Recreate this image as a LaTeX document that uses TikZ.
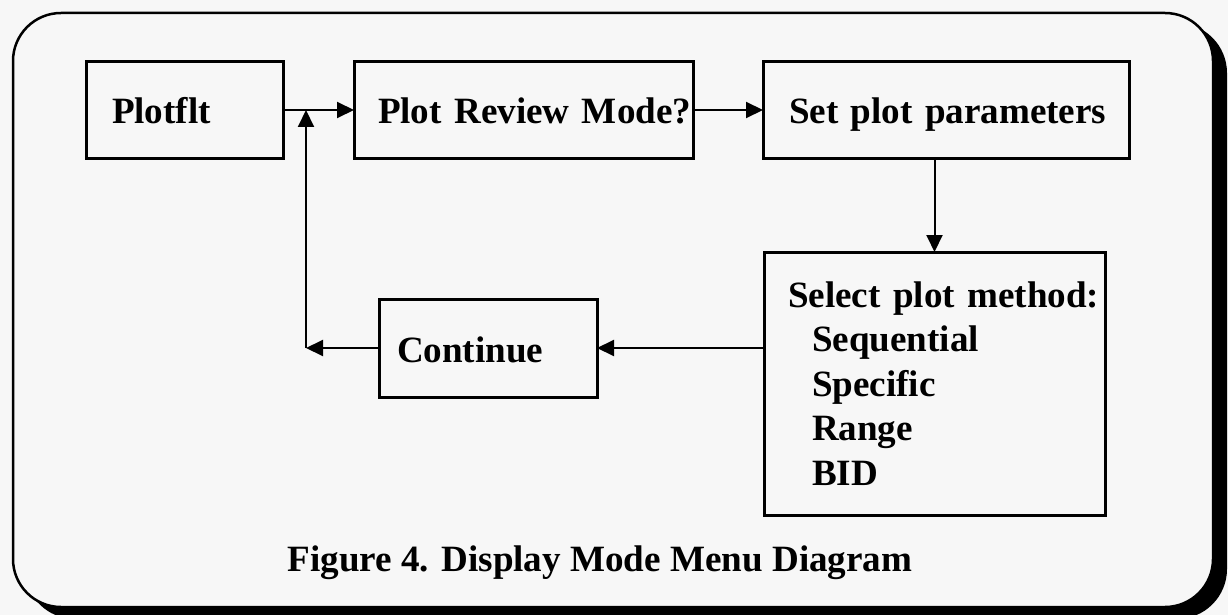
\documentclass[tikz,border=0pt]{standalone}
\usepackage{fontspec}
\setmainfont{Liberation Serif}
\usetikzlibrary{arrows.meta}
\definecolor{paper}{RGB}{247,247,247}
\tikzset{
  box/.style={draw=black, line width=3pt, anchor=north west, inner xsep=0pt, inner ysep=0pt, outer sep=0pt, align=left},
  oneline/.style={text height=28pt, text depth=0pt},
  conn/.style={draw=black, line width=2pt, -{Triangle[length=17pt,width=16pt]}},
}
\begin{document}
\begin{tikzpicture}[x=1pt,y=-1pt,font=\fontsize{37.1pt}{44.5pt}\selectfont\bfseries]
\useasboundingbox (0,0) rectangle (1228,615);
\fill[paper] (0,0) rectangle (1228,615);
\begin{scope}
\clip (0,0) rectangle (1228,615);
\fill[black, rounded corners=50pt] (25,23) rectangle (1227,619);
\end{scope}
\draw[fill=paper, line width=2.5pt, rounded corners=48pt] (13,13) rectangle (1213,607);

\node[box, oneline, minimum width=197pt, minimum height=96pt, text width=197pt] (pf) at (86,62) {\hspace*{26pt}\mbox{Plotflt}};
\node[box, oneline, minimum width=339pt, minimum height=96pt, text width=339pt] (rv) at (354,62) {\hspace*{24pt}\mbox{Plot Review Mode?}};
\node[box, oneline, minimum width=366pt, minimum height=96pt, text width=366pt] (sp) at (763,62) {\hspace*{26pt}\mbox{Set plot parameters}};
\node[box, minimum width=341pt, minimum height=263pt, text width=341pt] (sel) at (764,252) {\hspace*{24pt}\mbox{Select plot method:}\\\hspace*{48pt}Sequential\\\hspace*{48pt}Specific\\\hspace*{48pt}Range\\\hspace*{48pt}BID};
\node[box, oneline, minimum width=218pt, minimum height=98pt, text width=218pt] (cont) at (379,299) {\hspace*{18pt}\mbox{Continue}};

\node[anchor=base] (cap) at (600,571) {Figure 4. Display Mode Menu Diagram};

\coordinate (corner) at ([xshift=-73pt]cont.west);
\coordinate (junc) at (corner |- pf.east);

\draw[conn] (pf.east) -- (rv.west);
\draw[conn] (rv.east) -- (sp.west);
\draw[conn] (sel.north |- sp.south) -- (sel.north);
\draw[conn] (sel.west |- cont.east) -- (cont.east);
\draw[conn] (cont.west) -- (corner);
\draw[conn] (corner) -- (junc);
\end{tikzpicture}
\end{document}
